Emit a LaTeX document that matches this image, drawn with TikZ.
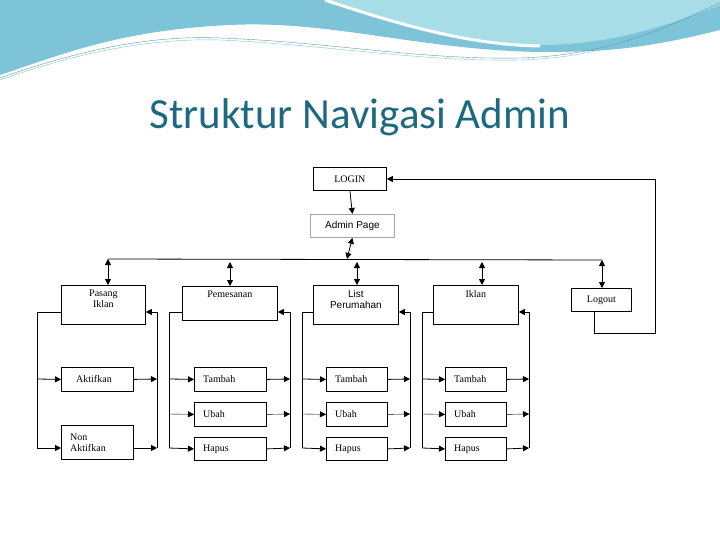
\documentclass[tikz,border=0pt]{standalone}
\usepackage{fontspec}
\setmainfont{Liberation Serif}
\newfontfamily\titlefont{Carlito}
\newfontfamily\arialf{Liberation Sans}
\usetikzlibrary{arrows.meta}
\definecolor{wave}{HTML}{7EC4D8}
\definecolor{wavel}{HTML}{A6DDE6}
\definecolor{titlec}{HTML}{1D6A80}
\tikzset{
  box/.style={draw, thick, anchor=north west, inner sep=0pt},
  lbl/.style={font=\fontsize{10}{11}\selectfont, inner sep=0pt, align=center},
  conn/.style={thick, -{Triangle[length=6pt,width=6pt]}},
  dconn/.style={thick, {Triangle[length=6pt,width=6pt]}-{Triangle[length=6pt,width=6pt]}},
  ln/.style={thick}
}
\begin{document}
\begin{tikzpicture}[x=1pt,y=-1pt]
\useasboundingbox (0,0) rectangle (720,540);
\fill[white] (0,0) rectangle (720,540);
% header waves
\fill[wave] (0,0) -- (720,0) -- (720,30) .. controls (640,50) and (600,52) .. (540,52) .. controls (420,50) and (330,20) .. (230,25) .. controls (120,30) and (60,55) .. (0,75) -- cycle;
\fill[wavel] (330,0) .. controls (400,25) and (470,45) .. (540,45) .. controls (620,45) and (680,20) .. (720,5) -- (720,0) -- cycle;
\draw[white, line width=3pt] (325,0) .. controls (400,25) and (470,45) .. (540,46);
\draw[titlec!70, thin] (0,78) .. controls (80,50) and (150,35) .. (220,38) .. controls (330,42) and (420,60) .. (520,58) .. controls (620,55) and (680,20) .. (720,3);
\draw[wave, thin] (0,80) .. controls (80,52) and (150,38) .. (220,40) .. controls (330,45) and (420,62) .. (520,60) .. controls (620,57) and (680,22) .. (720,6);
\node[text=titlec, font=\titlefont\fontsize{43}{48}\selectfont] (title) at (360,117) {Struktur Navigasi Admin};
% top
\node[box, minimum width=73pt, minimum height=23pt] (login) at (313,167) {};
\node[lbl] (loginT) at (login.center) {LOGIN};
\node[box, draw=gray!70, minimum width=84pt, minimum height=23pt] (admin) at (310,214) {};
\node[lbl, font=\arialf\fontsize{10}{11}\selectfont] (adminT) at (admin.center) {Admin Page};
\draw[conn] (login.south) -- (admin.north);
\coordinate (busL) at (108,259);
\coordinate (busR) at (602,260);
\draw[ln] (busL) -- (busR);
\draw[dconn] (admin.south) -- (347,259);
% level 2
\node[box, minimum width=84pt, minimum height=39pt] (pas) at (61,285) {};
\node[lbl, anchor=north] (pasT) at ([yshift=-5pt]pas.north) {Pasang\\Iklan};
\node[box, minimum width=95pt, minimum height=34pt] (pem) at (182,286) {};
\node[lbl, anchor=north] (pemT) at ([yshift=-5pt]pem.north) {Pemesanan};
\node[box, minimum width=85pt, minimum height=39pt] (lis) at (313,285) {};
\node[lbl, font=\arialf\fontsize{10}{11}\selectfont, anchor=north] (lisT) at ([yshift=-5pt]lis.north) {List\\Perumahan};
\node[box, minimum width=85pt, minimum height=39pt] (ikl) at (433,285) {};
\node[lbl, anchor=north] (iklT) at ([yshift=-5pt]ikl.north) {Iklan};
\node[box, minimum width=60pt, minimum height=23pt] (logout) at (571,288) {};
\node[lbl] (logoutT) at (logout.center) {Logout};
\draw[dconn] (108,259) -- (pas.north -| 108,0);
\draw[dconn] (230,262) -- (pem.north -| 230,0);
\draw[dconn] (357,262) -- (lis.north -| 357,0);
\draw[dconn] (482,262) -- (ikl.north -| 482,0);
\draw[dconn] (602,260) -- (logout.north -| 602,0);
% logout loop
\draw[conn] (594,311) -- (594,333) -- (655,333) -- (655,179) -- (login.east |- 0,179);
% Pasang column
\node[box, minimum width=72pt, minimum height=24pt] (akt) at (61,367) {};
\node[lbl, anchor=west] (aktT) at ([xshift=15pt]akt.west) {Aktifkan};
\node[box, minimum width=72pt, minimum height=34pt] (non) at (61,425) {};
\node[lbl, anchor=west, align=left] (nonT) at ([xshift=9pt]non.west) {Non\\Aktifkan};
\draw[ln] (pas.west |- 0,312) -- (37,312) -- (37,448);
\draw[conn] (37,379) -- (akt.west);
\draw[conn] (37,448) -- (non.west |- 0,448);
\draw[conn] (akt.east) -- (157,379);
\draw[conn] (non.east |- 0,448) -- (157,448);
\draw[conn] (157,448) -- (157,312) -- (pas.east |- 0,312);
% generic columns
\foreach \n/\pp/\L/\bx/\bw/\R in {p/pem/169/194/72/290, l/lis/302/326/61/410, i/ikl/422/445/61/529}{
  \node[box, minimum width=\bw pt, minimum height=24pt] (\n t) at (\bx,367) {};
  \node[lbl, anchor=west] (\n tT) at ([xshift=9pt]\n t.west) {Tambah};
  \node[box, minimum width=\bw pt, minimum height=24pt] (\n u) at (\bx,402) {};
  \node[lbl, anchor=west] (\n uT) at ([xshift=9pt]\n u.west) {Ubah};
  \node[box, minimum width=\bw pt, minimum height=23pt] (\n h) at (\bx,437) {};
  \node[lbl, anchor=west] (\n hT) at ([xshift=9pt]\n h.west) {Hapus};
  \draw[ln] (\pp.west |- 0,312) -- (\L,312) -- (\L,448);
  \draw[conn] (\L,379) -- (\n t.west);
  \draw[conn, thin] (\L,414) -- (\n u.west);
  \draw[conn] (\L,448) -- (\n h.west);
  \draw[conn] (\n t.east) -- (\R,379);
  \draw[conn, thin] (\n u.east) -- (\R,414);
  \draw[conn] (\n h.east) -- (\R,448);
  \draw[conn] (\R,448) -- (\R,312) -- (\pp.east |- 0,312);
}
\end{tikzpicture}
\end{document}
